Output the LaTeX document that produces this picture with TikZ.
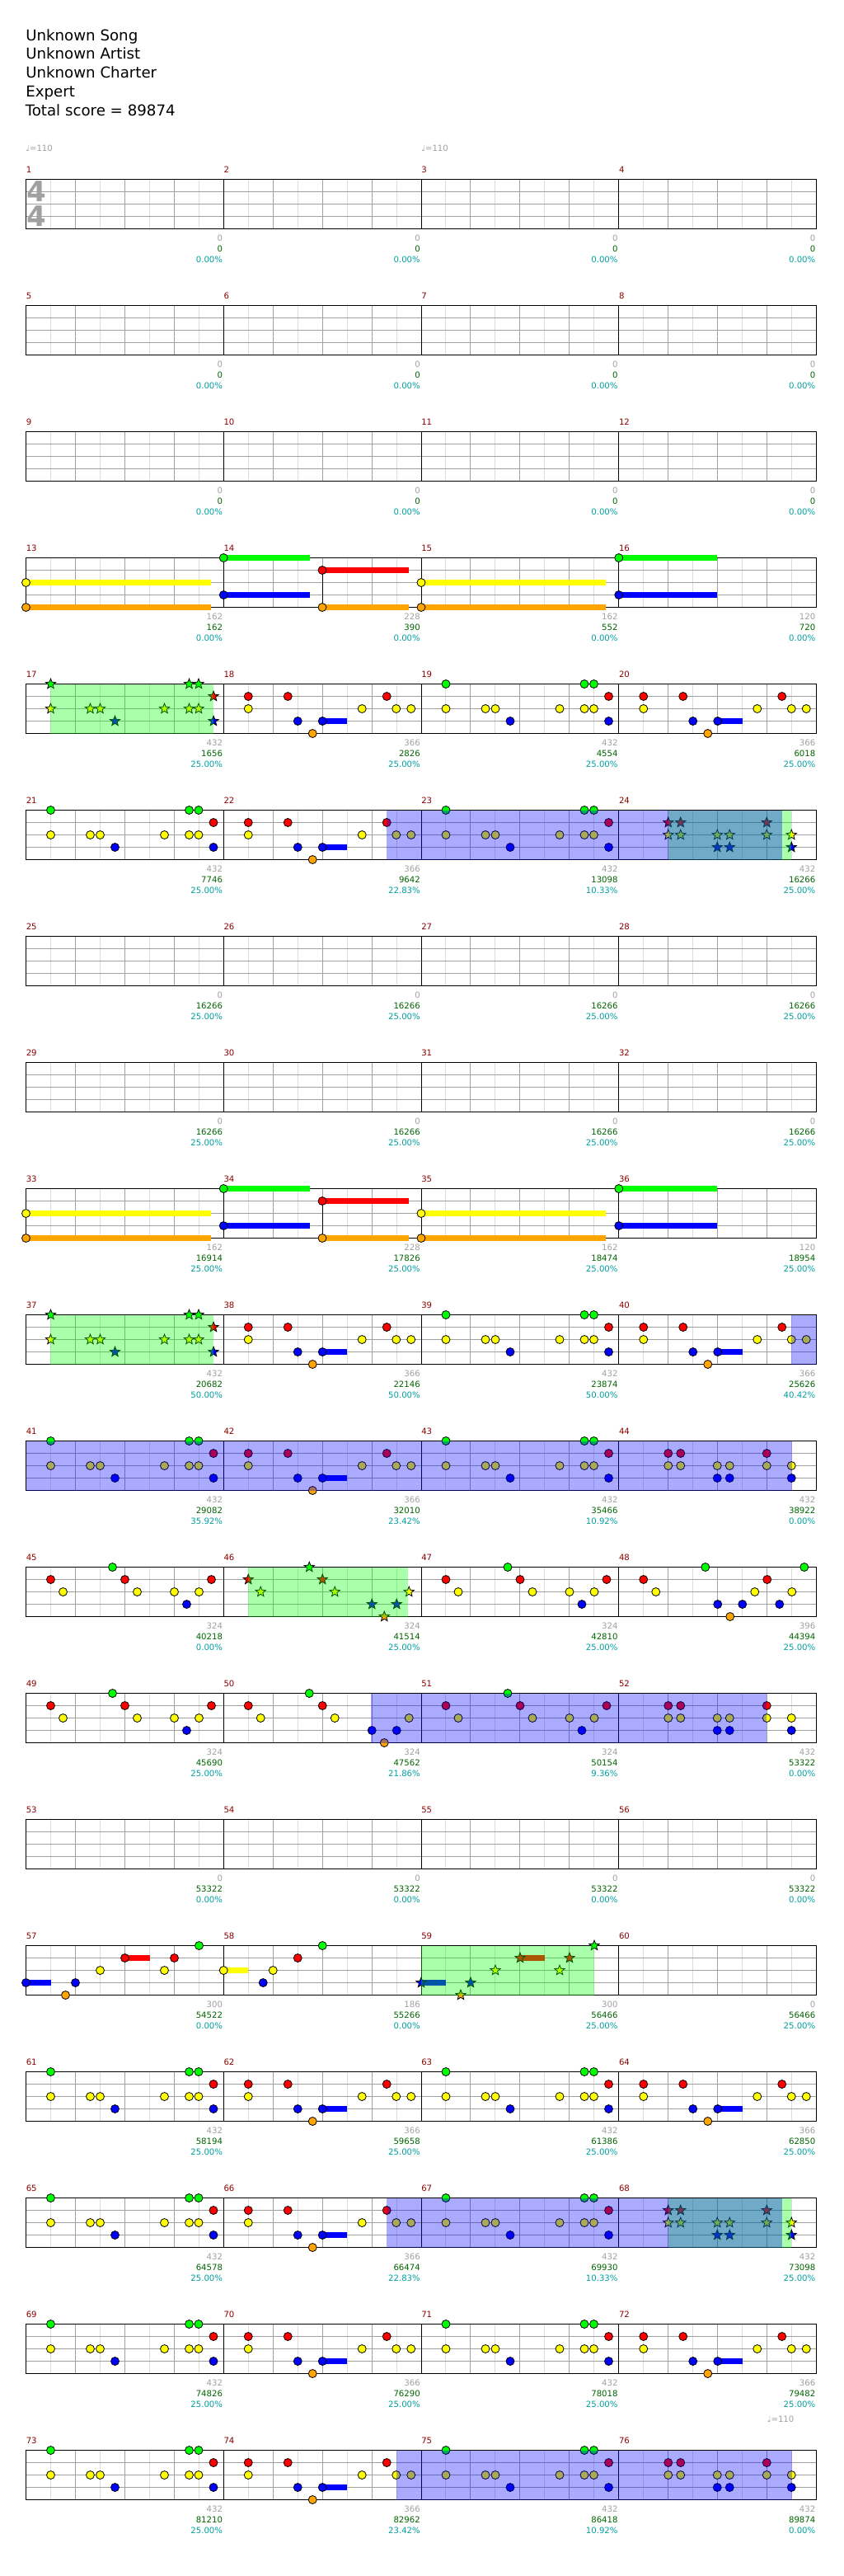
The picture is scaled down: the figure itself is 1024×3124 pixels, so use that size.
\documentclass[tikz,border=0pt]{standalone}
\usepackage{fontspec}
\setmainfont{DejaVu Sans}
\usetikzlibrary{positioning}

\definecolor{nGreen}{RGB}{0,255,0}
\definecolor{nRed}{RGB}{255,0,0}
\definecolor{nYellow}{RGB}{255,255,0}
\definecolor{nBlue}{RGB}{0,0,255}
\definecolor{nOrange}{RGB}{255,165,0}
\colorlet{lane0}{nGreen}
\colorlet{lane1}{nRed}
\colorlet{lane2}{nYellow}
\colorlet{lane3}{nBlue}
\colorlet{lane4}{nOrange}
\definecolor{gridLight}{RGB}{220,220,220}
\definecolor{gridDark}{RGB}{160,160,160}
\definecolor{barRed}{RGB}{140,0,0}
\definecolor{tickGray}{RGB}{160,160,160}
\definecolor{scoreGreen}{RGB}{0,100,0}
\definecolor{pctTeal}{RGB}{0,160,160}

\newcommand\smallfont{\fontsize{7.6}{9}\selectfont}

% gems: x, lane
\newcommand\nt[2]{\filldraw[gem,fill=lane#2] (#1,15*#2) circle (5);}
\newcommand\spgem[2]{\filldraw[gem,fill=lane#2] (#1,15*#2) +(270:6.4) -- +(306:2.8) -- +(342:6.4) -- +(18:2.8) -- +(54:6.4) -- +(90:2.8) -- +(126:6.4) -- +(162:2.8) -- +(198:6.4) -- +(234:2.8) -- cycle;}
% sustain: from, to, lane
\newcommand\hold[3]{\fill[lane#3] (#1,15*#3-3.5) rectangle (#2,15*#3+3.5);}
\newcommand\spzone[2]{\fill[nGreen,opacity=0.333] (#1,0) rectangle (#2,60);}
\newcommand\actzone[2]{\fill[nBlue,opacity=0.333] (#1,0) rectangle (#2,60);}

% one row of four bars
\newcommand\staffrow[1]{%
  \foreach \k in {1,3,...,31} \draw[gridlt] (31.5+29.96875*\k,0) -- (31.5+29.96875*\k,60);
  \foreach \k in {2,4,...,30} \draw[griddk] (31.5+29.96875*\k,0) -- (31.5+29.96875*\k,60);
  \foreach \l in {1,2,3} \draw[griddk] (31.5,15*\l) -- (990.5,15*\l);
  \draw[barline] (31.5,0) rectangle (990.5,60);
  \foreach \k in {1,2,3} \draw[barline] (31.5+239.75*\k,0) -- (31.5+239.75*\k,60);
  \foreach \k in {0,...,3}{\pgfmathtruncatemacro\mn{4*#1+\k+1}
    \node[barno] (m\mn) at (31.5+239.75*\k,-11.5) {\mn};}
}
% numbers under the bars: k/ticks/score/percent
\newcommand\tally[2]{%
  \foreach \k/\a/\b/\c in {#2}{\pgfmathtruncatemacro\mn{4*#1+\k+1}
    \node[tick] (t\mn) at (270.3+239.75*\k,71.5) {\a};
    \node[score] (s\mn) at (270.3+239.75*\k,84.2) {\b};
    \node[pct] (p\mn) at (270.3+239.75*\k,97.5) {\c\%};}
}

% note patterns, #1 = bar start
\newcommand\patA[1]{\hold{#1+120}{#1+150}{3}%
  \foreach \o/\l in {30/1,78/1,198/1,30/2,168/2,209.5/2,227.5/2,90/3,120/3,108/4}{\nt{#1+\o}{\l}}}
\newcommand\patB[2]{%
  \foreach \o/\l in {30/0,198/0,209.5/0,227.5/1,30/2,78/2,90/2,168/2,198/2,209.5/2,108/3,227.5/3}{#2{#1+\o}{\l}}}
\newcommand\patC[2]{%
  \foreach \o/\l in {60/1,75/1,179.5/1,60/2,75/2,119.5/2,134.5/2,179.5/2,209.5/2,119.5/3,134.5/3,209.5/3}{#2{#1+\o}{\l}}}
\newcommand\patD[1]{%
  \foreach \o/\l in {105/0,30/1,120/1,225/1,45/2,135/2,180/2,210/2,195/3}{\nt{#1+\o}{\l}}}
\newcommand\patE[2]{%
  \foreach \o/\l in {104/0,30/1,120/1,45/2,135/2,225/2,180/3,210/3,195/4}{#2{#1+\o}{\l}}}
\newcommand\patF[1]{%
  \foreach \o/\l in {105/0,225/0,30/1,180/1,45/2,165/2,210/2,120/3,150/3,195/3,135/4}{\nt{#1+\o}{\l}}}
\newcommand\patG[2]{\hold{#1}{#1+30}{3}\hold{#1+120}{#1+150}{1}%
  \foreach \o/\l in {0/3,48/4,60/3,90/2,120/1,168/2,180/1,210/0}{#2{#1+\o}{\l}}}
\newcommand\patH[1]{\hold{#1}{#1+30}{2}%
  \foreach \o/\l in {0/2,48/3,60/2,90/1,120/0}{\nt{#1+\o}{\l}}}
\newcommand\heldchords{%
  \hold{31.5}{255.7}{2}\hold{31.5}{255.7}{4}
  \hold{271.25}{376}{0}\hold{271.25}{376}{3}
  \hold{391}{496}{1}\hold{391}{496}{4}
  \hold{511}{735}{2}\hold{511}{735}{4}
  \hold{750.75}{870}{0}\hold{750.75}{870}{3}
  \draw[barline] (391,15) -- (391,60);
  \foreach \x/\l in {31.5/2,31.5/4,271.25/0,271.25/3,391/1,391/4,511/2,511/4,750.75/0,750.75/3}{\nt{\x}{\l}}}

\begin{document}
\begin{tikzpicture}[x=0.75pt,y=-0.75pt]
\tikzset{
  gem/.style={draw=black,line width=0.6pt},
  gridlt/.style={draw=gridLight,line width=0.75pt},
  griddk/.style={draw=gridDark,line width=0.75pt},
  barline/.style={draw=black,line width=0.75pt},
  hdr/.style={anchor=base west,inner sep=0,font=\fontsize{13.65}{16}\selectfont},
  barno/.style={anchor=west,inner sep=0,text=barRed,font=\smallfont},
  tick/.style={anchor=east,inner sep=0,text=tickGray,font=\smallfont},
  score/.style={anchor=east,inner sep=0,text=scoreGreen,font=\smallfont},
  pct/.style={anchor=east,inner sep=0,text=pctTeal,font=\smallfont},
  bpm/.style={anchor=west,inner sep=0,text=tickGray,font=\smallfont},
  timesig/.style={inner sep=0,text=tickGray,font=\fontsize{25.5}{26}\selectfont\bfseries}
}
\fill[white] (0,0) rectangle (1024,3124);
\useasboundingbox (0,0) rectangle (1024,3124);

% header
\node[hdr] (song) at (31,49) {Unknown Song};
\node[hdr] (artist) at (31,71.7) {Unknown Artist};
\node[hdr] (charter) at (31,94.5) {Unknown Charter};
\node[hdr] (level) at (31,117.3) {Expert};
\node[hdr] (total) at (30.5,140) {Total score = 89874};

% bars 1-12
\foreach \r in {0,1,2}{
  \begin{scope}[shift={(0,217.5+153*\r)}]
    \staffrow{\r}
    \tally{\r}{0/0/0/0.00,1/0/0/0.00,2/0/0/0.00,3/0/0/0.00}
  \end{scope}}
\begin{scope}[shift={(0,217.5)}]
  \node[bpm] (bpm1) at (31,-37.5) {♩=110};
  \node[bpm] (bpm2) at (511,-37.5) {♩=110};
  \node[timesig] (sigtop) at (44.7,14.5) {4};
  \node[timesig] (sigbot) at (44.7,44.5) {4};
\end{scope}

% bars 13-16
\begin{scope}[shift={(0,676.5)}]
  \staffrow{3}
  \heldchords
  \tally{3}{0/162/162/0.00,1/228/390/0.00,2/162/552/0.00,3/120/720/0.00}
\end{scope}

% bars 17-20
\begin{scope}[shift={(0,829.5)}]
  \staffrow{4}
  \patB{31.5}{\spgem}\patA{271.25}\patB{511}{\nt}\patA{750.75}
  \spzone{61.2}{259}
  \tally{4}{0/432/1656/25.00,1/366/2826/25.00,2/432/4554/25.00,3/366/6018/25.00}
\end{scope}

% bars 21-24
\begin{scope}[shift={(0,982.5)}]
  \staffrow{5}
  \patB{31.5}{\nt}\patA{271.25}\patB{511}{\nt}\patC{750.75}{\spgem}
  \spzone{810.75}{960.25}
  \actzone{469.25}{948.75}
  \tally{5}{0/432/7746/25.00,1/366/9642/22.83,2/432/13098/10.33,3/432/16266/25.00}
\end{scope}

% bars 25-32
\foreach \r in {6,7}{
  \begin{scope}[shift={(0,217.5+153*\r)}]
    \staffrow{\r}
    \tally{\r}{0/0/16266/25.00,1/0/16266/25.00,2/0/16266/25.00,3/0/16266/25.00}
  \end{scope}}

% bars 33-36
\begin{scope}[shift={(0,1441.5)}]
  \staffrow{8}
  \heldchords
  \tally{8}{0/162/16914/25.00,1/228/17826/25.00,2/162/18474/25.00,3/120/18954/25.00}
\end{scope}

% bars 37-40
\begin{scope}[shift={(0,1594.5)}]
  \staffrow{9}
  \patB{31.5}{\spgem}\patA{271.25}\patB{511}{\nt}\patA{750.75}
  \spzone{61.2}{259}
  \actzone{960.25}{990.5}
  \tally{9}{0/432/20682/50.00,1/366/22146/50.00,2/432/23874/50.00,3/366/25626/40.42}
\end{scope}

% bars 41-44
\begin{scope}[shift={(0,1747.5)}]
  \staffrow{10}
  \patB{31.5}{\nt}\patA{271.25}\patB{511}{\nt}\patC{750.75}{\nt}
  \actzone{31.5}{960.75}
  \tally{10}{0/432/29082/35.92,1/366/32010/23.42,2/432/35466/10.92,3/432/38922/0.00}
\end{scope}

% bars 45-48
\begin{scope}[shift={(0,1900.5)}]
  \staffrow{11}
  \patD{31.5}\patE{271.25}{\spgem}\patD{511}\patF{750.75}
  \spzone{300.75}{494.75}
  \tally{11}{0/324/40218/0.00,1/324/41514/25.00,2/324/42810/25.00,3/396/44394/25.00}
\end{scope}

% bars 49-52
\begin{scope}[shift={(0,2053.5)}]
  \staffrow{12}
  \patD{31.5}\patE{271.25}{\nt}\patD{511}\patC{750.75}{\nt}
  \actzone{450.25}{929.75}
  \tally{12}{0/324/45690/25.00,1/324/47562/21.86,2/324/50154/9.36,3/432/53322/0.00}
\end{scope}

% bars 53-56
\begin{scope}[shift={(0,2206.5)}]
  \staffrow{13}
  \tally{13}{0/0/53322/0.00,1/0/53322/0.00,2/0/53322/0.00,3/0/53322/0.00}
\end{scope}

% bars 57-60
\begin{scope}[shift={(0,2359.5)}]
  \staffrow{14}
  \patG{31.5}{\nt}\patH{271.25}\patG{511}{\spgem}
  \spzone{511}{720.5}
  \tally{14}{0/300/54522/0.00,1/186/55266/0.00,2/300/56466/25.00,3/0/56466/25.00}
\end{scope}

% bars 61-64
\begin{scope}[shift={(0,2512.5)}]
  \staffrow{15}
  \patB{31.5}{\nt}\patA{271.25}\patB{511}{\nt}\patA{750.75}
  \tally{15}{0/432/58194/25.00,1/366/59658/25.00,2/432/61386/25.00,3/366/62850/25.00}
\end{scope}

% bars 65-68
\begin{scope}[shift={(0,2665.5)}]
  \staffrow{16}
  \patB{31.5}{\nt}\patA{271.25}\patB{511}{\nt}\patC{750.75}{\spgem}
  \spzone{810.75}{960.25}
  \actzone{469.25}{948.75}
  \tally{16}{0/432/64578/25.00,1/366/66474/22.83,2/432/69930/10.33,3/432/73098/25.00}
\end{scope}

% bars 69-72
\begin{scope}[shift={(0,2818.5)}]
  \staffrow{17}
  \patB{31.5}{\nt}\patA{271.25}\patB{511}{\nt}\patA{750.75}
  \tally{17}{0/432/74826/25.00,1/366/76290/25.00,2/432/78018/25.00,3/366/79482/25.00}
\end{scope}

% bars 73-76
\begin{scope}[shift={(0,2971.5)}]
  \staffrow{18}
  \patB{31.5}{\nt}\patA{271.25}\patB{511}{\nt}\patC{750.75}{\nt}
  \actzone{480.75}{960.5}
  \node[bpm] (bpm3) at (930.5,-37.5) {♩=110};
  \tally{18}{0/432/81210/25.00,1/366/82962/23.42,2/432/86418/10.92,3/432/89874/0.00}
\end{scope}
\end{tikzpicture}
\end{document}
